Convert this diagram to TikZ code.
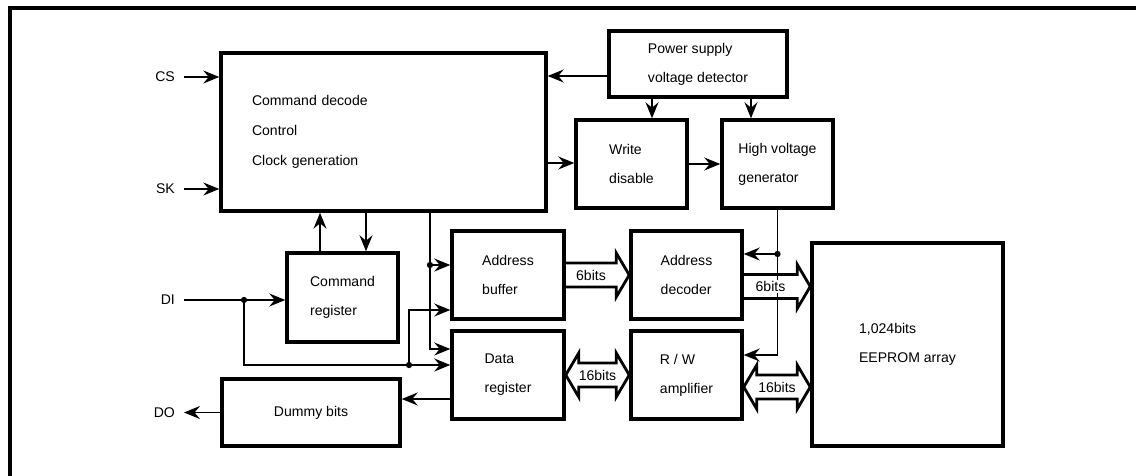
\documentclass[tikz,border=0pt]{standalone}
\usepackage{fontspec}
\setmainfont{Liberation Sans}
\usetikzlibrary{arrows.meta,calc,positioning}

% one-way and two-way bus arrows: name, left end, right end, text
\newcommand{\busone}[4]{%
  \draw[bus] ($(#2)+(0,0.24cm)$) -- ($(#3)+(-0.26cm,0.24cm)$) -- ($(#3)+(-0.26cm,0.44cm)$)
    -- (#3) -- ($(#3)+(-0.26cm,-0.44cm)$) -- ($(#3)+(-0.26cm,-0.24cm)$) -- ($(#2)+(0,-0.24cm)$);
  \node (#1) [buslbl] at ($(#2)!0.5!(#3)+(-0.13cm,0)$) {#4};}
\newcommand{\bustwo}[4]{%
  \draw[bus] (#2) -- ($(#2)+(0.26cm,0.44cm)$) -- ($(#2)+(0.26cm,0.24cm)$) -- ($(#3)+(-0.26cm,0.24cm)$)
    -- ($(#3)+(-0.26cm,0.44cm)$) -- (#3) -- ($(#3)+(-0.26cm,-0.44cm)$) -- ($(#3)+(-0.26cm,-0.24cm)$)
    -- ($(#2)+(0.26cm,-0.24cm)$) -- ($(#2)+(0.26cm,-0.44cm)$) -- cycle;
  \node (#1) [buslbl] at ($(#2)!0.5!(#3)$) {#4};}

\begin{document}
\begin{tikzpicture}
[x=0.02cm, y=-0.02cm,
>={Stealth[length=3.2mm,width=2.6mm,inset=1.1mm]},
every node/.style={font=\fontsize{8}{16.5}\selectfont},
%
blk/.style={draw,line width=2pt,align=left,inner sep=0pt},
reg/.style={blk,minimum width=2.22cm,minimum height=1.76cm},
lbl/.style={inner xsep=5pt,anchor=east},
dot/.style={circle,fill=black,inner sep=0pt,minimum size=3.6pt},
%
sig/.style={->,line width=0.6pt},
bus/.style={line width=1.6pt,line join=miter},
buslbl/.style={fill=white,inner sep=0.5pt},
frame/.style={line width=2.2pt}]

\useasboundingbox (0,0) rectangle (1136,476);
\draw[frame] (10,476) -- (10,8) -- (1136,8);

\node (main) [blk,minimum width=6.5cm,minimum height=3.16cm,text width=5.26cm,
  font=\fontsize{8}{17}\selectfont] at (383.5,132) {Command decode\\Control\\Clock generation};
\node (ps) [blk,minimum width=3.56cm,minimum height=1.32cm] at (698,64) {Power supply\\voltage detector};
\node (wd) [reg] at (631.5,164) {Write\\disable};
\node (hv) [reg] at (777.5,164) {High voltage\\generator};
\node (cr) [reg,minimum height=1.78cm] at (342.5,297.5) {Command\\register};
\node (ab) [reg,minimum width=2.24cm] at (508,275) {Address\\buffer};
\node (ad) [reg] at (686.5,275) {Address\\decoder};
\node (dr) [reg,minimum width=2.24cm] at (508,375) {Data\\register};
\node (rw) [reg] at (686.5,375) {R / W\\amplifier};
\node (ee) [blk,minimum width=3.82cm,minimum height=4.06cm] at (907.5,344.5) {1,024bits\\EEPROM array};
\node (dum) [blk,minimum width=3.56cm,minimum height=1.34cm] at (311,412.5) {Dummy bits};

\node (cs) [lbl] at (184,77) {CS};
\node (sk) [lbl] at (184,189) {SK};
\node (di) [lbl] at (184,300) {DI};
\node (do) [lbl] at (184,412.5) {DO};

% control side
\draw[sig] (cs) -- (cs -| main.west);
\draw[sig] (sk) -- (sk -| main.west);
\coordinate (ps-o) at ([yshift=-0.24cm]ps.west);
\draw[sig] (ps-o) -- (ps-o -| main.east);
\coordinate (ps-a) at ([xshift=-0.92cm]ps.south);
\coordinate (ps-b) at ([xshift=1.06cm]ps.south);
\draw[sig] (ps-a) -- (ps-a |- wd.north);
\draw[sig] (ps-b) -- (ps-b |- hv.north);
\coordinate (main-o) at ([yshift=-0.62cm]main.east);
\draw[sig] (main-o) -- (main-o -| wd.west);
\draw[sig] (wd) -- (hv);
\coordinate (cr-up) at ([xshift=-0.45cm]cr.north);
\coordinate (cr-dn) at ([xshift=0.47cm]cr.north);
\draw[sig] (cr-up) -- (cr-up |- main.south);
\draw[sig] (cr-dn |- main.south) -- (cr-dn);

% inputs to buffer and data register
\coordinate (bus-x) at ([xshift=0.93cm]main.south);
\coordinate (ab-in1) at ([yshift=0.2cm]ab.west);
\coordinate (ab-in2) at ([yshift=-0.7cm]ab.west);
\coordinate (dr-in1) at ([yshift=0.52cm]dr.west);
\coordinate (j1) at (244,300);
\coordinate (j2) at (409,365);
\coordinate (dr-in2) at (j2 -| dr.west);
\draw[sig] (bus-x) |- (dr-in1);
\draw[sig] (bus-x |- ab-in1) -- (ab-in1);
\node (d1) [dot] at (bus-x |- ab-in1) {};
\draw[sig] (di) -- (di -| cr.west);
\draw[sig] (j1) |- (dr-in2);
\draw[sig] (j2) |- (ab-in2);
\node (d2) [dot] at (j1) {};
\node (d3) [dot] at (j2) {};
\coordinate (dr-o) at ([yshift=-0.48cm]dr.west);
\draw[sig] (dr-o) -- (dr-o -| dum.east);
\draw[sig] (dum) -- (do);

% high voltage to decoder and amplifier
\coordinate (ad-in) at ([yshift=0.42cm]ad.east);
\coordinate (rw-in) at ([yshift=0.4cm]rw.east);
\draw[sig] (hv.south) |- (rw-in);
\draw[sig] (hv.south |- ad-in) -- (ad-in);
\node (d4) [dot] at (hv.south |- ad-in) {};

% buses
\coordinate (ab-o) at (ab.east);
\coordinate (ad-i) at (ab.east -| ad.west);
\coordinate (ad-o) at ([yshift=-0.23cm]ad.east);
\coordinate (ee-a) at (ad-o -| ee.west);
\coordinate (dr-b) at (dr.east);
\coordinate (rw-b) at (dr.east -| rw.west);
\coordinate (rw-c) at ([yshift=-0.24cm]rw.east);
\coordinate (ee-c) at (rw-c -| ee.west);
\busone{b1}{ab-o}{ad-i}{6bits}
\busone{b2}{ad-o}{ee-a}{6bits}
\bustwo{b3}{dr-b}{rw-b}{16bits}
\bustwo{b4}{rw-c}{ee-c}{16bits}

\end{tikzpicture}
\end{document}
